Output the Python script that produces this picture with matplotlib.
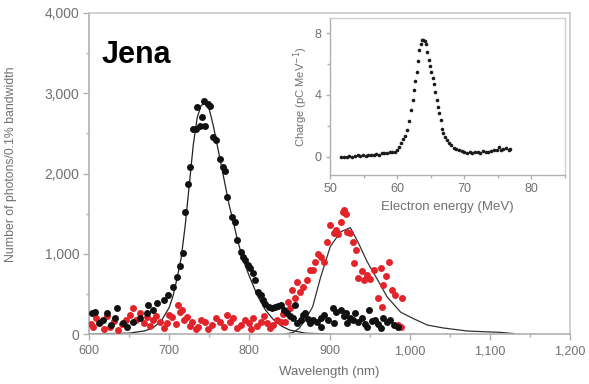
import matplotlib
matplotlib.use("Agg")
import matplotlib.pyplot as plt
from matplotlib.ticker import MultipleLocator, FuncFormatter

plt.rcParams['font.family'] = ['Liberation Sans', 'DejaVu Sans']

# ---- main plot data: black series (wavelength nm, photons) ----
black_x = [604, 607, 612, 617, 622, 627, 632, 635, 642, 648, 655, 664, 672, 674, 680,
           685, 693, 699, 705, 710, 714, 717, 720, 724, 726, 730, 733, 735, 739, 741,
           744, 745, 748, 751, 755, 758, 763, 767, 770, 772, 779, 782, 785, 789, 792,
           795, 798, 801, 804, 807, 811, 814, 817, 820, 824, 828, 832, 836, 839, 843,
           847, 851, 855, 857, 860, 864, 867, 870, 873, 876, 880, 885, 889, 889, 893,
           898, 904, 905, 908, 914, 918, 920, 922, 925, 929, 932, 936, 941, 944, 947,
           949, 953, 957, 960, 964, 967, 972, 976, 981, 986]
black_y = [260, 275, 140, 175, 260, 110, 200, 325, 135, 90, 150, 200, 260, 360, 300,
           390, 425, 490, 590, 715, 850, 1010, 1525, 1875, 2075, 2550, 2560, 2825, 2590, 2700,
           2900, 2590, 2870, 2840, 2460, 2420, 2175, 2080, 2025, 1710, 1460, 1400, 1175, 1025, 960,
           925, 860, 825, 760, 675, 525, 480, 425, 380, 340, 330, 340, 350, 360, 300,
           260, 230, 200, 360, 140, 180, 237, 260, 190, 137, 180, 150, 200, 90, 240,
           180, 325, 137, 270, 300, 220, 260, 137, 200, 180, 262, 150, 200, 120, 90,
           300, 160, 175, 120, 75, 200, 150, 175, 110, 90]

# ---- red series ----
red_x = [603, 605, 609, 614, 619, 623, 626, 631, 636, 641, 646, 651, 655, 659, 664,
         668, 672, 676, 680, 684, 689, 693, 697, 700, 704, 708, 711, 713, 716, 719,
         722, 726, 729, 733, 736, 740, 745, 749, 754, 759, 764, 768, 772, 776, 780,
         785, 789, 794, 799, 802, 805, 810, 814, 818, 822, 826, 830, 835, 839, 842,
         845, 848, 851, 853, 857, 860, 863, 867, 872, 876, 879, 882, 886, 889, 893,
         897, 901, 905, 908, 911, 914, 917, 918, 920, 922, 926, 929, 930, 933, 936,
         940, 943, 947, 951, 955, 960, 964, 966, 967, 970, 974, 978, 982, 985, 989, 991]
red_y = [130, 90, 200, 150, 60, 220, 90, 160, 50, 120, 180, 237, 325, 170, 262,
         140, 212, 100, 175, 230, 150, 80, 137, 240, 212, 120, 362, 280, 300, 180,
         212, 100, 150, 60, 90, 180, 150, 60, 112, 200, 150, 90, 237, 150, 200,
         70, 112, 180, 137, 60, 200, 100, 150, 220, 137, 80, 112, 180, 150, 250,
         150, 400, 325, 550, 450, 650, 520, 590, 675, 800, 800, 900, 1000, 960, 900,
         1150, 1360, 1260, 1300, 1240, 1390, 1525, 1550, 1490, 1275, 1260, 1150, 890, 1050, 700,
         780, 675, 740, 680, 800, 450, 825, 340, 610, 720, 900, 550, 480, 112, 90, 450]

# ---- fitted curves ----
fit1_x = [600, 650, 670, 680, 690, 700, 705, 710, 715, 720, 725, 730, 735, 740, 745,
          750, 755, 760, 765, 770, 775, 780, 785, 790, 795, 800, 810, 820, 830, 840,
          850, 870, 900]
fit1_y = [0, 10, 40, 80, 160, 330, 480, 700, 950, 1350, 1850, 2350, 2700, 2850, 2870,
          2800, 2600, 2350, 2100, 1850, 1600, 1400, 1180, 1000, 850, 720, 480, 300, 180, 100,
          50, 10, 0]
fit2_x = [845, 855, 862, 870, 879, 889, 901, 914, 926, 936, 947, 960, 972, 989, 1005,
          1022, 1042, 1072, 1114, 1130]
fit2_y = [0, 20, 70, 180, 340, 710, 1090, 1275, 1325, 1135, 900, 675, 460, 270, 190,
          112, 75, 37, 20, 5]

# ---- inset data (electron energy MeV, charge pC/MeV) ----
ins_x = [51.7, 52.1, 52.5, 52.9, 53.3, 53.7, 54.1, 54.5, 54.9, 55.3, 55.7, 56.1, 56.5, 56.9,
         57.3, 57.7, 58.1, 58.5, 58.9, 59.3, 59.7, 60.0, 60.3, 60.6, 60.9, 61.2, 61.5, 61.8,
         62.1, 62.3, 62.5, 62.7, 62.9, 63.1, 63.3, 63.5, 63.7, 63.9, 64.1, 64.3, 64.5, 64.7,
         64.9, 65.1, 65.3, 65.5, 65.7, 65.9, 66.1, 66.3, 66.5, 66.7, 66.9, 67.1, 67.4, 67.7,
         68.0, 68.4, 68.8, 69.2, 69.6, 70.0, 70.4, 70.8, 71.2, 71.6, 72.0, 72.4, 72.8, 73.2,
         73.6, 74.0, 74.4, 74.8, 75.1, 75.4, 75.8, 76.2, 76.6, 76.8]
ins_y = [0.0, -0.05, 0.0, 0.05, -0.02, 0.03, 0.08, 0.05, 0.1, 0.05, 0.1, 0.12, 0.08, 0.15,
         0.1, 0.2, 0.25, 0.22, 0.3, 0.28, 0.3, 0.4, 0.65, 0.9, 1.15, 1.35, 1.7, 2.3,
         3.0, 3.7, 4.3, 4.9, 5.5, 6.2, 6.9, 7.3, 7.55, 7.6, 7.5, 7.3, 6.8, 6.3,
         5.9, 5.5, 5.1, 4.7, 4.2, 3.7, 3.2, 2.8, 2.4, 1.8, 1.5, 1.25, 1.05, 0.9,
         0.72, 0.58, 0.48, 0.4, 0.33, 0.28, 0.25, 0.3, 0.25, 0.28, 0.3, 0.26, 0.35, 0.3,
         0.28, 0.35, 0.4, 0.45, 0.6, 0.45, 0.5, 0.55, 0.45, 0.5]

main_xticks = [600, 700, 800, 900, 1000, 1100, 1200]
main_yticks = [0, 1000, 2000, 3000, 4000]
ins_xticks = [50, 60, 70, 80]
ins_yticks = [0, 4, 8]

SPINE = '#b0b0b0'
TXT = '#707070'
RED = '#e3232a'
BLK = '#111111'

fig = plt.figure(figsize=(5.89, 3.84), dpi=100)
ax = fig.add_axes([89/589, 1-334/384, (570-89)/589, (334-13)/384])

ax.plot(fit2_x, fit2_y, color='#333333', lw=0.9, zorder=2)
ax.plot(fit1_x, fit1_y, color='#222222', lw=0.9, zorder=2)
ax.plot(red_x, red_y, 'o', color=RED, ms=5.0, mec='none', zorder=3)
ax.plot(black_x, black_y, 'o', color=BLK, ms=5.0, mec='none', zorder=4)

ax.set_xlim(600, 1200)
ax.set_ylim(0, 4000)
ax.set_xticks(main_xticks)
ax.set_yticks(main_yticks)
ax.xaxis.set_minor_locator(MultipleLocator(50))
ax.yaxis.set_minor_locator(MultipleLocator(500))
fmt = FuncFormatter(lambda v, p: f"{int(v):,}")
ax.xaxis.set_major_formatter(fmt)
ax.yaxis.set_major_formatter(fmt)
for s in ['top', 'right', 'left', 'bottom']:
    ax.spines[s].set_color(SPINE)
    ax.spines[s].set_linewidth(1.2)
ax.spines['top'].set_color('#c8c8c8')
ax.spines['right'].set_color('#c8c8c8')
ax.tick_params(which='major', direction='out', length=4, width=1, color=SPINE,
               labelcolor=TXT)
ax.tick_params(axis='x', which='major', labelsize=9, pad=4)
ax.tick_params(axis='y', which='major', labelsize=10, pad=3)
ax.tick_params(which='minor', direction='out', length=2.5, width=1, color=SPINE)
ax.set_xlabel('Wavelength (nm)', fontsize=9.5, color=TXT)
ax.set_ylabel('Number of photons/0.1% bandwidth', fontsize=8.8, color=TXT)
ax.xaxis.set_label_coords(0.5, -0.1)
ax.yaxis.set_label_coords(-0.15, 0.53)

ax.text(0.027, 0.844, 'Jena', transform=ax.transAxes, fontsize=22,
        fontweight='bold', color='black', ha='left', va='baseline')

# ---- inset ----
ins = fig.add_axes([330/589, 1-175/384, (565-330)/589, (175-18)/384])
ins.plot(ins_x, ins_y, 'o', color='#1a1a1a', ms=2.6, mec='none')
ins.set_xlim(50, 85)
ins.set_ylim(-1.2, 9)
ins.set_xticks(ins_xticks)
ins.set_yticks(ins_yticks)
ins.xaxis.set_minor_locator(MultipleLocator(5))
ins.yaxis.set_minor_locator(MultipleLocator(2))
for s in ['top', 'right', 'left', 'bottom']:
    ins.spines[s].set_color(SPINE)
    ins.spines[s].set_linewidth(1.0)
ins.spines['top'].set_color('#d0d0d0')
ins.spines['right'].set_color('#d0d0d0')
ins.tick_params(which='major', direction='out', length=3, width=1, color=SPINE,
                labelsize=9, labelcolor=TXT, pad=3)
ins.tick_params(which='minor', direction='out', length=2, width=1, color=SPINE)
ins.set_xlabel('Electron energy (MeV)', fontsize=9.5, color=TXT, labelpad=4)
ins.set_ylabel('Charge (pC MeV$^{-1}$)', fontsize=8, color=TXT, labelpad=3)

fig.savefig('out.png', dpi=100)
